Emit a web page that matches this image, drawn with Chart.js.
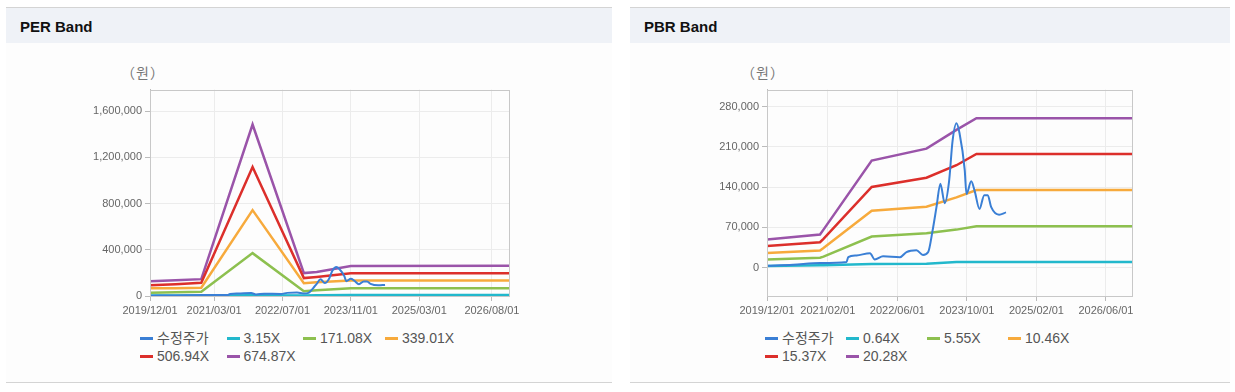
<!DOCTYPE html>
<html lang="ko">
<head>
<meta charset="UTF-8">
<title>PER / PBR Band</title>
<script src="https://cdn.jsdelivr.net/npm/chart.js"></script>
<style>
    body {
        margin: 0;
        width: 1235px;
        height: 392px;
        background: #fff;
        font-family: "Liberation Sans", Arial, "Noto Sans CJK KR", sans-serif;
        position: relative;
        overflow: hidden;
    }
    .panel {
        position: absolute;
        top: 7px;
        height: 374px;
        border-top: 1px solid #d4d4d4;
        border-bottom: 1px solid #d4d4d4;
        background: #fdfdfd;
    }
    .panel h2 {
        margin: 0;
        height: 35px;
        line-height: 37px;
        background: #eff2f7;
        font-size: 15px;
        font-weight: bold;
        color: #111;
        padding-left: 14px;
    }
    .unit {
        position: absolute;
        top: 54px;
        font-size: 14px;
        color: #777;
        font-family: "Noto Sans CJK KR", sans-serif;
        letter-spacing: 1px;
    }
    .chartbox {
        position: absolute;
        top: 72px;
        width: 470px;
        height: 240px;
    }
    .legend {
        position: absolute;
        top: 321px;
        display: grid;
        font-size: 14px;
        line-height: 18.4px;
        color: #555;
        font-family: "Liberation Sans", Arial, "Noto Sans CJK KR", sans-serif;
    }
    .legend span.sw {
        display: inline-block;
        width: 13px;
        height: 3px;
        margin-right: 4px;
        vertical-align: middle;
        position: relative;
        top: -1px;
    }
</style>
</head>
<body>

<div class="panel" style="left:6px; width:606px;">
    <h2>PER Band</h2>
    <div class="unit" style="left:115px;">（원）</div>
    <div class="chartbox" style="left:54px;"><canvas id="perChart"></canvas></div>
    <div class="legend" id="perLegend" style="left:134px; grid-template-columns: 86.5px 76.5px 82px auto;"></div>
</div>

<div class="panel" style="left:630px; width:600px;">
    <h2>PBR Band</h2>
    <div class="unit" style="left:111px;">（원）</div>
    <div class="chartbox" style="left:50px;"><canvas id="pbrChart"></canvas></div>
    <div class="legend" id="pbrLegend" style="left:135px; grid-template-columns: 81px 81px 81px auto;"></div>
</div>

<script>
// months counted from 2019/12
const perTickMonths = [0, 15, 31, 47, 63, 80];
const perTickLabels = ['2019/12/01', '2021/03/01', '2022/07/01', '2023/11/01', '2025/03/01', '2026/08/01'];
const pbrTickMonths = [0, 14, 30, 46, 62, 78];
const pbrTickLabels = ['2019/12/01', '2021/02/01', '2022/06/01', '2023/10/01', '2025/02/01', '2026/06/01'];

// 수정주가 (shared by both charts)
const priceMonths = [0, 6, 12.2, 18.3, 18.7, 20.6, 23.7, 24.8, 26.7, 30.6, 32.1, 34.4, 35.9, 37.1, 38.1, 39, 39.9, 40.9, 41.9, 42.7, 43.6, 44.3, 45.5, 45.9, 47, 47.8, 48.9, 50, 50.8, 51.6, 53.4, 55];
const priceValues = [3000, 5000, 8000, 9700, 18000, 21000, 25000, 14000, 19500, 18000, 27000, 30000, 22000, 27000, 64000, 105000, 146000, 112000, 150000, 220000, 251000, 234000, 170000, 128000, 150000, 133000, 102000, 126000, 126000, 105000, 92000, 96000];

// PER band
const perLabels = ['3.15X', '171.08X', '339.01X', '506.94X', '674.87X'];
const perMonths = [0, 6, 12, 24, 36, 39, 47, 84];
const per315 = [4000, 4000, 5000, 7000, 5000, 6000, 8000, 8000];
const per171 = [28000, 32000, 37000, 371000, 42000, 50000, 66000, 66000];
const per339 = [66000, 68000, 71000, 743000, 110000, 118000, 134000, 134000];
const per507 = [94000, 102000, 114000, 1116000, 155000, 165000, 197000, 197000];
const per675 = [128000, 136000, 146000, 1484000, 198000, 208000, 260000, 262000];
const perYTicks = [0, 400000, 800000, 1200000, 1600000];

// PBR band
const pbrLabels = ['0.64X', '5.55X', '10.46X', '15.37X', '20.28X'];
const pbrMonths = [0, 12.2, 13, 24.1, 36.7, 43.6, 48.2, 84];
const pbr064 = [2500, 4000, 4000, 6000, 6500, 9500, 9500, 9500];
const pbr555 = [13800, 17200, 19000, 54000, 59700, 66000, 71700, 71700];
const pbr1046 = [25200, 29800, 34000, 98800, 105700, 122000, 135000, 135000];
const pbr1537 = [37300, 44100, 50000, 140200, 156200, 178000, 197600, 197600];
const pbr2028 = [48800, 57400, 66000, 186200, 206900, 239600, 259700, 259700];
const pbrYTicks = [0, 70000, 140000, 210000, 280000];

const colors = ['#3a7fd5', '#22b8cc', '#8dc04f', '#f7aa3c', '#dc2f2b', '#9a54a9'];

function pts(xs, ys) {
    return xs.map((x, i) => ({ x: x, y: ys[i] }));
}

const frame = {
    id: 'frame',
    afterDraw(chart) {
        const a = chart.chartArea, c = chart.ctx;
        c.save();
        c.strokeStyle = '#c8c8c8';
        c.lineWidth = 1;
        c.strokeRect(Math.round(a.left) + 0.5, Math.round(a.top) + 0.5, Math.round(a.right - a.left), Math.round(a.bottom - a.top));
        c.restore();
    }
};

Chart.defaults.font.family = '"Liberation Sans", Arial, sans-serif';
Chart.defaults.font.size = 11;
Chart.defaults.color = '#666';

function makeChart(id, bands, bandLabels, tickMonths, tickLabels, yTicks, yMin, yMax, yWidth, pad) {
    const datasets = [{
        label: '수정주가',
        data: pts(priceMonths, priceValues),
        borderColor: colors[0],
        borderWidth: 2,
        cubicInterpolationMode: 'monotone',
        order: 0
    }];
    bands.forEach((b, i) => {
        datasets.push({
            label: bandLabels[i],
            data: b,
            borderColor: colors[i + 1],
            borderWidth: 2.5,
            tension: 0,
            order: 1
        });
    });
    return new Chart(document.getElementById(id), {
        type: 'line',
        data: { datasets: datasets },
        options: {
            responsive: true,
            maintainAspectRatio: false,
            animation: false,
            layout: { padding: pad },
            elements: { point: { radius: 0 } },
            plugins: { legend: { display: false }, tooltip: { enabled: false } },
            scales: {
                x: {
                    type: 'linear',
                    min: 0,
                    max: 84,
                    afterBuildTicks: s => { s.ticks = tickMonths.map(v => ({ value: v })); },
                    afterFit: s => { s.height = 24; },
                    grid: { color: '#ececec', tickColor: '#bbb', tickLength: 5 },
                    border: { color: '#bbb' },
                    ticks: {
                        autoSkip: false,
                        maxRotation: 0,
                        padding: 3,
                        callback: v => tickLabels[tickMonths.indexOf(v)]
                    }
                },
                y: {
                    min: yMin,
                    max: yMax,
                    afterBuildTicks: s => { s.ticks = yTicks.map(v => ({ value: v })); },
                    afterFit: s => { s.width = yWidth; },
                    grid: { color: '#ececec', tickColor: '#bbb', tickLength: 5 },
                    border: { color: '#bbb' },
                    ticks: {
                        padding: 3,
                        callback: v => v.toLocaleString('en-US')
                    }
                }
            }
        },
        plugins: [frame]
    });
}

makeChart('perChart',
    [pts(perMonths, per315), pts(perMonths, per171), pts(perMonths, per339), pts(perMonths, per507), pts(perMonths, per675)],
    perLabels, perTickMonths, perTickLabels, perYTicks, 0, 1786000, 90,
    { top: 8, right: 21, left: 0, bottom: 0 });

makeChart('pbrChart',
    [pts(pbrMonths, pbr064), pts(pbrMonths, pbr555), pts(pbrMonths, pbr1046), pts(pbrMonths, pbr1537), pts(pbrMonths, pbr2028)],
    pbrLabels, pbrTickMonths, pbrTickLabels, pbrYTicks, -49500, 309600, 87,
    { top: 8, right: 18, left: 0, bottom: 0 });

function buildLegend(id, bandLabels) {
    const names = ['수정주가'].concat(bandLabels);
    const box = document.getElementById(id);
    names.forEach((n, i) => {
        const d = document.createElement('div');
        d.innerHTML = '<span class="sw" style="background:' + colors[i] + '"></span>' + n;
        box.appendChild(d);
    });
}
buildLegend('perLegend', perLabels);
buildLegend('pbrLegend', pbrLabels);
</script>
</body>
</html>
